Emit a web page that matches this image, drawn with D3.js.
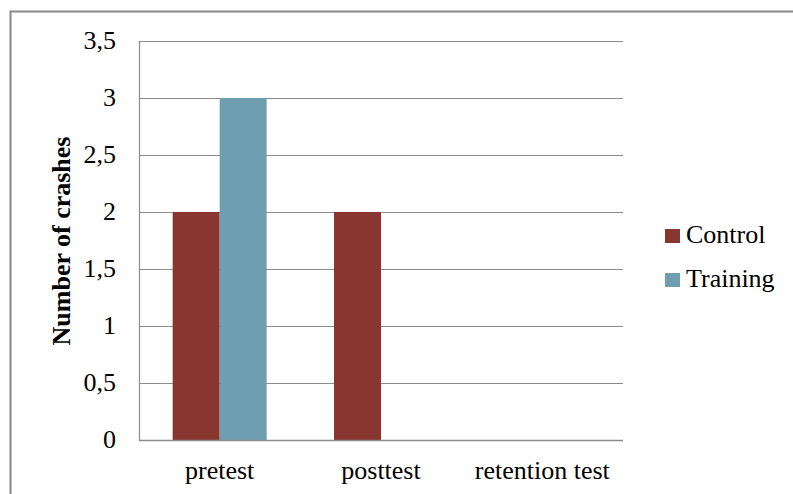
<!DOCTYPE html>
<html><head><meta charset="utf-8">
<script src="https://cdn.jsdelivr.net/npm/d3@7"></script>
<style>body{margin:0;background:#fff}svg{display:block}</style>
</head><body><svg id="c" width="793" height="494"></svg>
<script>
const categories = ["pretest", "posttest", "retention test"];
const seriesNames = ["Control", "Training"];
const controlValues = [2, 2, 0];
const trainingValues = [3, 0, 0];
const yTicks = [0, 0.5, 1, 1.5, 2, 2.5, 3, 3.5];
const colors = ["#893530", "#6d9fb0"];
const FONT = "'Liberation Serif', 'DejaVu Serif', 'Times New Roman', serif";

const svg = d3.select("#c");
const L = 139, R = 623, T = 41, B = 440;
svg.append("path").attr("d", "M10.5,494 V11.5 H793").attr("fill", "none").attr("stroke", "#888").attr("stroke-width", 2);

const x = d3.scaleBand().domain(categories).range([L, R]);
const y = d3.scaleLinear().domain([0, 3.5]).range([B, T]);

svg.append("g").selectAll("line").data(yTicks).join("line")
  .attr("x1", L).attr("x2", R).attr("y1", d => Math.round(y(d)) + 0.5).attr("y2", d => Math.round(y(d)) + 0.5)
  .attr("stroke", "#8c8c8c").attr("stroke-width", 1.2);

const data = categories.map((c, i) => ({c, vals: [controlValues[i], trainingValues[i]]}));
const barW = 47;
const g = svg.append("g");
data.forEach(d => {
  d.vals.forEach((v, j) => {
    const cx = x(d.c) + x.bandwidth() / 2;
    g.append("rect").attr("x", cx - barW + j * barW).attr("width", barW)
      .attr("y", y(v)).attr("height", B - y(v)).attr("fill", colors[j]);
  });
});

svg.append("line").attr("x1", L + 0.5).attr("x2", L + 0.5).attr("y1", T).attr("y2", B + 1).attr("stroke", "#8c8c8c").attr("stroke-width", 1.2);
svg.append("line").attr("x1", L).attr("x2", R).attr("y1", B + 0.5).attr("y2", B + 0.5).attr("stroke", "#8c8c8c").attr("stroke-width", 1.5);

function txt(sel) { return sel.style("font-family", FONT).style("font-size", "26px").attr("fill", "#000"); }

const fmt = d => String(d).replace(".", ",");
txt(svg.append("g").selectAll("text").data(yTicks).join("text")
  .attr("x", 116).attr("y", d => y(d) + 8).attr("text-anchor", "end")).text(fmt);

txt(svg.append("g").selectAll("text").data(categories).join("text")
  .attr("x", d => x(d) + x.bandwidth() / 2).attr("y", 479).attr("text-anchor", "middle")).text(d => d);

txt(svg.append("text").attr("transform", "translate(70,241) rotate(-90)").attr("text-anchor", "middle"))
  .style("font-weight", "bold").text("Number of crashes");

const leg = svg.append("g");
seriesNames.forEach((s, i) => {
  const base = 243 + i * 44;
  leg.append("rect").attr("x", 665).attr("y", base - 14).attr("width", 15).attr("height", 14).attr("fill", colors[i]);
  txt(leg.append("text").attr("x", 686).attr("y", base)).text(s);
});
</script></body></html>
